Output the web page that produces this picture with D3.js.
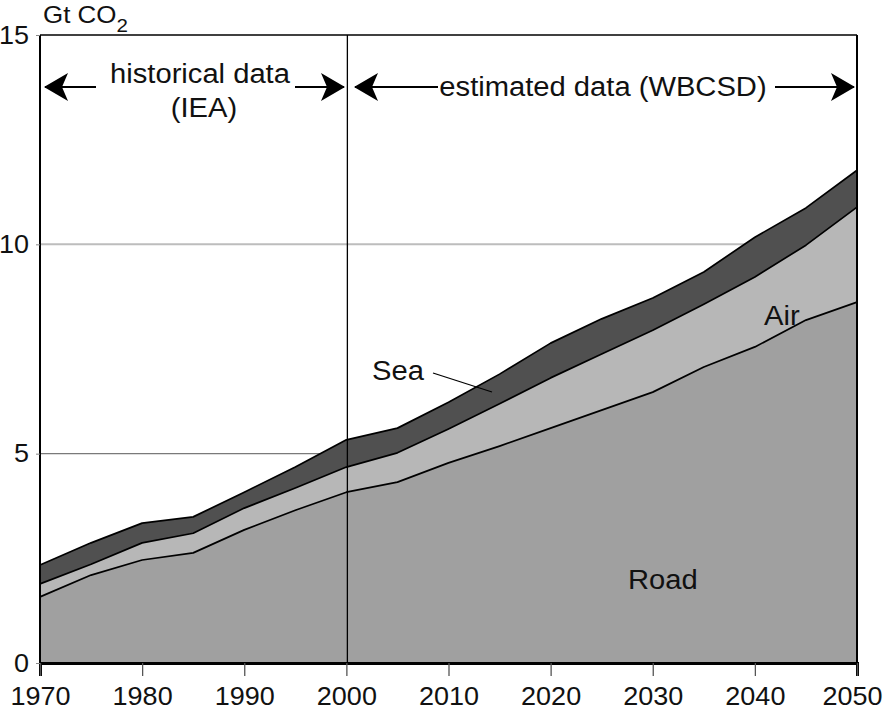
<!DOCTYPE html>
<html><head><meta charset="utf-8">
<script src="https://cdn.jsdelivr.net/npm/d3@7"></script>
<style>body{margin:0;background:#fff}svg{display:block}text{font-family:"Liberation Sans",Arial,sans-serif;fill:#111}</style>
</head><body><svg id="c" width="885" height="710"></svg>
<script>
const years = [1970,1975,1980,1985,1990,1995,2000,2005,2010,2015,2020,2025,2030,2035,2040,2045,2050];
const road  = [1.58,2.10,2.46,2.63,3.18,3.65,4.08,4.32,4.78,5.18,5.61,6.04,6.47,7.07,7.55,8.19,8.62];
const air   = [0.31,0.26,0.41,0.47,0.52,0.53,0.60,0.70,0.81,1.01,1.20,1.34,1.48,1.50,1.67,1.79,2.27];
const sea   = [0.45,0.51,0.47,0.39,0.38,0.50,0.65,0.59,0.64,0.71,0.83,0.84,0.77,0.77,0.95,0.89,0.88];
const yTicks = [0,5,10,15];
const xTicks = [1970,1980,1990,2000,2010,2020,2030,2040,2050];
const gridVals = [5,10];

const SX = 1.08;
const svg = d3.select("#c");
const L=40,R=857,T=35,B=663;
const x = d3.scaleLinear().domain([1970,2050]).range([L,R]);
const y = d3.scaleLinear().domain([0,15]).range([B,T]);

const data = years.map((yr,i)=>({year:yr,road:road[i],air:air[i],sea:sea[i]}));
const stack = d3.stack().keys(["road","air","sea"])(data);
const fills = {road:"#a0a0a0",air:"#b7b7b7",sea:"#505050"};

// grid
svg.selectAll(".grid").data(gridVals).join("line")
  .attr("x1",L).attr("x2",R).attr("y1",d=>y(d)).attr("y2",d=>y(d))
  .attr("stroke",(d,i)=>i===0?"#7a7a7a":"#bdbdbd").attr("stroke-width",(d,i)=>i===0?1.3:2);

const area = d3.area().x(d=>x(d.data.year)).y0(d=>y(d[0])).y1(d=>y(d[1]));
svg.selectAll(".layer").data(stack).join("path")
  .attr("d",area).attr("fill",d=>fills[d.key]);
const line = d3.line().x(d=>x(d.data.year)).y(d=>y(d[1]));
svg.selectAll(".bline").data(stack).join("path")
  .attr("d",line).attr("fill","none").attr("stroke","#000").attr("stroke-width",1.7).attr("stroke-linejoin","round");

// frame
svg.append("line").attr("x1",L).attr("x2",R).attr("y1",T).attr("y2",T).attr("stroke","#000").attr("stroke-width",1.6);
svg.append("line").attr("x1",L).attr("x2",L).attr("y1",T).attr("y2",B).attr("stroke","#000").attr("stroke-width",2);
svg.append("line").attr("x1",R).attr("x2",R).attr("y1",T).attr("y2",B).attr("stroke","#000").attr("stroke-width",2);
svg.append("line").attr("x1",x(2000)+1).attr("x2",x(2000)+1).attr("y1",T).attr("y2",B).attr("stroke","#000").attr("stroke-width",1.3);

function stretchText(sel){
  sel.each(function(){
    const t = d3.select(this);
    const tx = +t.attr("x")||0, ty = +t.attr("y")||0;
    t.attr("x",0).attr("y",0).attr("transform",`translate(${tx},${ty}) scale(${SX},1)`);
  });
}

// axes
const xa = svg.append("g").attr("transform",`translate(0,${B})`)
  .call(d3.axisBottom(x).tickValues(xTicks).tickFormat(d3.format("d")).tickSize(13).tickPadding(11));
xa.select(".domain").attr("stroke","#000").attr("stroke-width",3);
xa.selectAll(".tick line").attr("stroke","#555").attr("stroke-width",1.3);
xa.selectAll("text").style("font-size","25px").attr("fill","#111").call(stretchText);
// keep the last year label inside the window
xa.selectAll(".tick").filter(d=>d===xTicks[xTicks.length-1]).select("text")
  .attr("transform",function(){return d3.select(this).attr("transform").replace("translate(0,","translate(-5,");});
const ya = svg.append("g").attr("transform",`translate(${L},0)`)
  .call(d3.axisLeft(y).tickValues(yTicks).tickSize(4).tickPadding(7));
ya.select(".domain").remove();
ya.selectAll(".tick line").attr("stroke","#888");
ya.selectAll("text").style("font-size","25px").attr("fill","#111").call(stretchText);

function label(px,py,str,size,anchor){
  return svg.append("text").attr("text-anchor",anchor||"start").style("font-size",size+"px")
    .attr("transform",`translate(${px},${py}) scale(${SX},1)`).text(str);
}

// unit label
const u = svg.append("text").attr("transform",`translate(43,23) scale(${SX},1)`).style("font-size","24px");
u.append("tspan").text("Gt CO");
u.append("tspan").text("2").attr("dy",9).style("font-size","19px");

// annotations
const defs = svg.append("defs");
defs.append("marker").attr("id","ah").attr("viewBox","0 0 24 28").attr("refX",23).attr("refY",14)
  .attr("markerWidth",24).attr("markerHeight",28).attr("markerUnits","userSpaceOnUse").attr("orient","auto")
  .append("path").attr("d","M0,0 L24,14 L0,28 L6,14 Z").attr("fill","#000");
function arrow(x1,x2,yy){
  svg.append("line").attr("x1",x1).attr("x2",x2).attr("y1",yy).attr("y2",yy)
    .attr("stroke","#000").attr("stroke-width",2).attr("marker-end","url(#ah)");
}
arrow(96,45,87); arrow(295,344,87);
arrow(438,355,87); arrow(775,854,87);
label(200,83,"historical data",27,"middle");
label(204,117,"(IEA)",27,"middle");
label(603,96,"estimated data (WBCSD)",27,"middle");

label(372,380,"Sea",27);
svg.append("line").attr("x1",433).attr("y1",373).attr("x2",492).attr("y2",392).attr("stroke","#000").attr("stroke-width",1.3);
label(764,325,"Air",27);
label(628,589,"Road",27);
</script></body></html>
